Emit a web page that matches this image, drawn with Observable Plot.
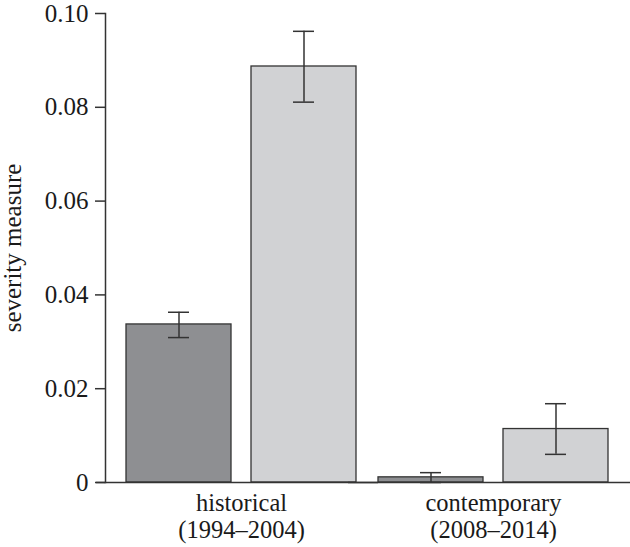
<!DOCTYPE html>
<html><head><meta charset="utf-8">
<script src="https://cdn.jsdelivr.net/npm/d3@7"></script>
<script src="https://cdn.jsdelivr.net/npm/@observablehq/plot@0.6"></script>
<style>body{margin:0;background:#fff}</style>
</head><body><div id="chart"></div>
<script>
const periods = ["historical\n(1994–2004)", "contemporary\n(2008–2014)"];
const series = ["series A", "series B"];
const means = [[0.0337, 0.0887], [0.0011, 0.0114]];
const lower = [[0.0309, 0.0811], [0.0000, 0.0060]];
const upper = [[0.0363, 0.0962], [0.0021, 0.0168]];
const yTicks = [0, 0.02, 0.04, 0.06, 0.08, 0.10];
const colors = ["#8e8f92", "#d1d2d4"];

const data = periods.flatMap((p, i) => series.map((s, j) => ({
  period: p, series: s, mean: means[i][j], lo: lower[i][j], hi: upper[i][j]
})));

const ink = "#333";
const chart = Plot.plot({
  width: 630, height: 547,
  marginTop: 13, marginBottom: 65, marginLeft: 115, marginRight: 11,
  style: {fontFamily: "'Liberation Serif', 'Times New Roman', serif", fontSize: "24px", color: "#1a1a1a", background: "#fff"},
  fx: {domain: periods, padding: 0, label: null, axis: null},
  x: {domain: series, paddingInner: 0.1587, paddingOuter: 0.0794, axis: null},
  y: {domain: [0, 0.1], axis: null},
  color: {domain: series, range: colors},
  marks: [
    Plot.barY(data, {fx: "period", x: "series", y: "mean", fill: "series", stroke: ink, strokeWidth: 1.3}),
    Plot.ruleX(data, {fx: "period", x: "series", y1: "lo", y2: "hi", stroke: ink, strokeWidth: 1.5}),
    Plot.tickY(data, {fx: "period", x: "series", y: "hi", stroke: ink, strokeWidth: 1.5, insetLeft: 42, insetRight: 42}),
    Plot.tickY(data, {fx: "period", x: "series", y: "lo", stroke: ink, strokeWidth: 1.5, insetLeft: 42, insetRight: 42}),
    Plot.ruleY([0], {stroke: ink, strokeWidth: 1.5, insetLeft: -19, insetRight: -11}),
    Plot.frame({anchor: "left", facetAnchor: "left", dx: -10, stroke: ink, strokeWidth: 1.5}),
    Plot.axisY({ticks: yTicks, tickFormat: d => d === 0 ? "0" : d.toFixed(2), tickSize: 10, tickPadding: 7, dx: -10,
      fontSize: 25, stroke: ink, strokeWidth: 1.5, label: "severity measure", labelAnchor: "center", labelArrow: "none", labelOffset: 112}),
    Plot.axisFx({anchor: "bottom", tickSize: 0, tickPadding: 9, fontSize: 24.5, lineHeight: 1.1, label: null})
  ]
});
document.getElementById("chart").appendChild(chart);
</script>
</body></html>
